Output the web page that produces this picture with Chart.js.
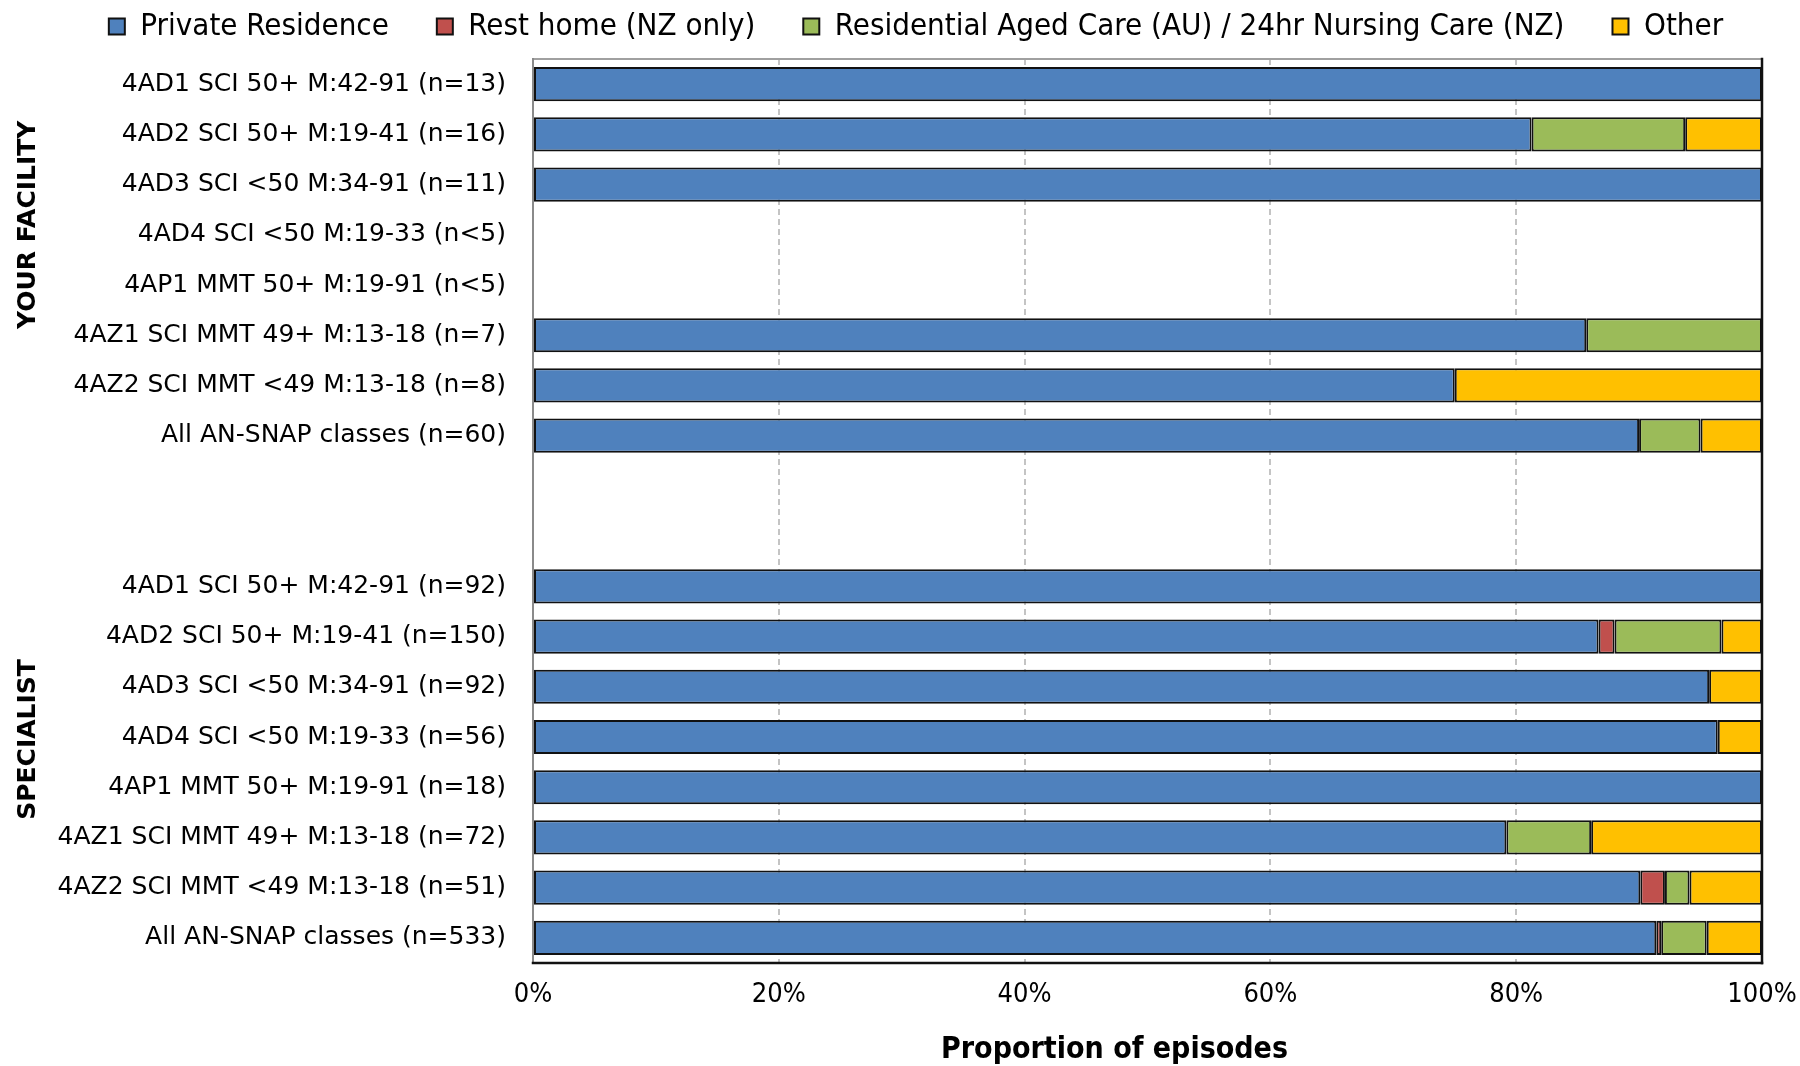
<!DOCTYPE html>
<html>
<head>
<meta charset="utf-8">
<script src="https://cdn.jsdelivr.net/npm/chart.js@4.4.1/dist/chart.umd.min.js"></script>
<style>
  html, body { margin: 0; padding: 0; background: #ffffff; }
  #wrap { width: 1800px; height: 1066px; }
</style>
</head>
<body>
<div id="wrap"><canvas id="c" width="1800" height="1066"></canvas></div>
<script>
// ---- data ----
const categories = [
  '4AD1 SCI 50+ M:42-91 (n=13)',
  '4AD2 SCI 50+ M:19-41 (n=16)',
  '4AD3 SCI <50 M:34-91 (n=11)',
  '4AD4 SCI <50 M:19-33 (n<5)',
  '4AP1 MMT 50+ M:19-91 (n<5)',
  '4AZ1 SCI MMT 49+ M:13-18 (n=7)',
  '4AZ2 SCI MMT <49 M:13-18 (n=8)',
  'All AN-SNAP classes (n=60)',
  '',
  '',
  '4AD1 SCI 50+ M:42-91 (n=92)',
  '4AD2 SCI 50+ M:19-41 (n=150)',
  '4AD3 SCI <50 M:34-91 (n=92)',
  '4AD4 SCI <50 M:19-33 (n=56)',
  '4AP1 MMT 50+ M:19-91 (n=18)',
  '4AZ1 SCI MMT 49+ M:13-18 (n=72)',
  '4AZ2 SCI MMT <49 M:13-18 (n=51)',
  'All AN-SNAP classes (n=533)'
];
const privateResidence = [100, 81.25, 100, null, null, 85.7, 75, 90, null, null, 100, 86.7, 95.7, 96.4, 100, 79.2, 90.1, 91.4];
const restHome         = [null, null, null, null, null, null, null, null, null, null, null, 1.3, null, null, null, null, 2.0, 0.4];
const residentialCare  = [null, 12.5, null, null, null, 14.3, null, 5, null, null, null, 8.7, null, null, null, 6.9, 2.0, 3.7];
const other            = [null, 6.25, null, null, null, null, 25, 5, null, null, null, 3.3, 4.3, 3.6, null, 13.9, 5.9, 4.5];
const xTicks = [0, 20, 40, 60, 80, 100];
const groupLabels = ['YOUR FACILITY', 'SPECIALIST'];
const seriesNames = ['Private Residence', 'Rest home (NZ only)', 'Residential Aged Care (AU) / 24hr Nursing Care (NZ)', 'Other'];
const seriesColors = ['#4F81BD', '#C0504D', '#9BBB59', '#FFC000'];

// ---- layout constants ----
const PLOT_LEFT = 533;
const PAD_LEFT = 10;
const LEGEND_SHIFT = 30;
const TITLE_SHIFT = -33;

const patchPlugin = {
  id: 'patchPlugin',
  afterInit(chart) {
    const lg = chart.legend;
    if (lg && !lg._patched) {
      const f = lg.fit.bind(lg);
      lg.fit = function () { f(); this.height += 7; };
      const d = lg.draw.bind(lg);
      lg.draw = function () {
        this.left += LEGEND_SHIFT; this.right += LEGEND_SHIFT;
        d();
        this.left -= LEGEND_SHIFT; this.right -= LEGEND_SHIFT;
      };
      lg._patched = true;
    }
  },
  beforeDraw(chart) {
    const xs = chart.scales.x;
    if (xs && !xs._tp) {
      const o = xs.drawTitle.bind(xs);
      xs.drawTitle = function () {
        const c = this.ctx; c.save(); c.translate(TITLE_SHIFT, 0); o(); c.restore();
      };
      xs._tp = true;
    }
  }
};

const framePlugin = {
  id: 'framePlugin',
  afterDatasetsDraw(chart) {
    const { ctx, chartArea: a } = chart;
    ctx.save();
    ctx.lineCap = 'square';
    ctx.strokeStyle = '#a0a0a0'; ctx.lineWidth = 2;
    ctx.beginPath(); ctx.moveTo(a.left, a.top); ctx.lineTo(a.right, a.top); ctx.stroke();
    ctx.strokeStyle = '#8a8a8a'; ctx.lineWidth = 2;
    ctx.beginPath(); ctx.moveTo(a.left, a.top); ctx.lineTo(a.left, a.bottom); ctx.stroke();
    ctx.strokeStyle = '#111111'; ctx.lineWidth = 2.5;
    ctx.beginPath(); ctx.moveTo(a.right, a.top); ctx.lineTo(a.right, a.bottom); ctx.stroke();
    ctx.beginPath(); ctx.moveTo(a.left, a.bottom); ctx.lineTo(a.right, a.bottom); ctx.stroke();
    ctx.restore();
  },
  afterDraw(chart) {
    const { ctx } = chart;
    const y = chart.scales.y;
    const pos = [y.getPixelForValue(2.8), y.getPixelForValue(13.05)];
    ctx.save();
    ctx.fillStyle = '#000';
    ctx.font = 'bold 25px "DejaVu Sans"';
    ctx.textAlign = 'center';
    ctx.textBaseline = 'middle';
    groupLabels.forEach((t, i) => {
      ctx.save();
      ctx.translate(28, pos[i]);
      ctx.rotate(-Math.PI / 2);
      ctx.fillText(t, 0, 0);
      ctx.restore();
    });
    ctx.restore();
  }
};

const seriesData = [privateResidence, restHome, residentialCare, other];
const datasets = seriesNames.map((name, i) => ({
  label: name,
  data: seriesData[i],
  backgroundColor: seriesColors[i],
  borderColor: '#111111',
  borderWidth: 2,
  borderSkipped: false,
  barPercentage: 0.68,
  categoryPercentage: 1.0
}));

new Chart(document.getElementById('c'), {
  type: 'bar',
  data: { labels: categories, datasets },
  plugins: [patchPlugin, framePlugin],
  options: {
    indexAxis: 'y',
    responsive: false,
    animation: false,
    devicePixelRatio: 1,
    layout: { padding: { left: PAD_LEFT, right: 38, top: -37, bottom: 0 } },
    plugins: {
      tooltip: { enabled: false },
      legend: {
        position: 'top',
        labels: {
          boxWidth: 16,
          boxHeight: 16,
          padding: 48,
          color: '#000',
          font: { family: '"DejaVu Sans Condensed", "DejaVu Sans"', size: 31 }
        }
      }
    },
    scales: {
      x: {
        stacked: true,
        min: 0,
        max: 100,
        afterBuildTicks(scale) { scale.ticks = xTicks.map(v => ({ value: v })); },
        afterFit(scale) { scale.height = 103; },
        ticks: {
          padding: 0,
          color: '#000',
          font: { family: '"DejaVu Sans Condensed", "DejaVu Sans"', size: 27 },
          callback: (v) => v + '%'
        },
        grid: {
          drawTicks: true,
          tickLength: 16,
          tickColor: 'rgba(0,0,0,0)',
          lineWidth: 2,
          color: (c) => (c.tick && c.tick.value > 0 && c.tick.value < 100) ? '#c4c4c4' : 'rgba(0,0,0,0)'
        },
        border: { display: false, dash: [6, 4] },
        title: {
          display: true,
          text: 'Proportion of episodes',
          color: '#000',
          font: { family: '"DejaVu Sans Condensed", "DejaVu Sans"', size: 30, weight: 'bold', lineHeight: 1 },
          padding: { top: 0, bottom: 1 }
        }
      },
      y: {
        stacked: true,
        afterFit(scale) { scale.width = PLOT_LEFT - PAD_LEFT; },
        ticks: {
          padding: 27,
          color: '#000',
          autoSkip: false,
          font: { family: '"DejaVu Sans"', size: 25 }
        },
        grid: { display: false, drawTicks: false },
        border: { display: false }
      }
    }
  }
});
</script>
</body>
</html>
